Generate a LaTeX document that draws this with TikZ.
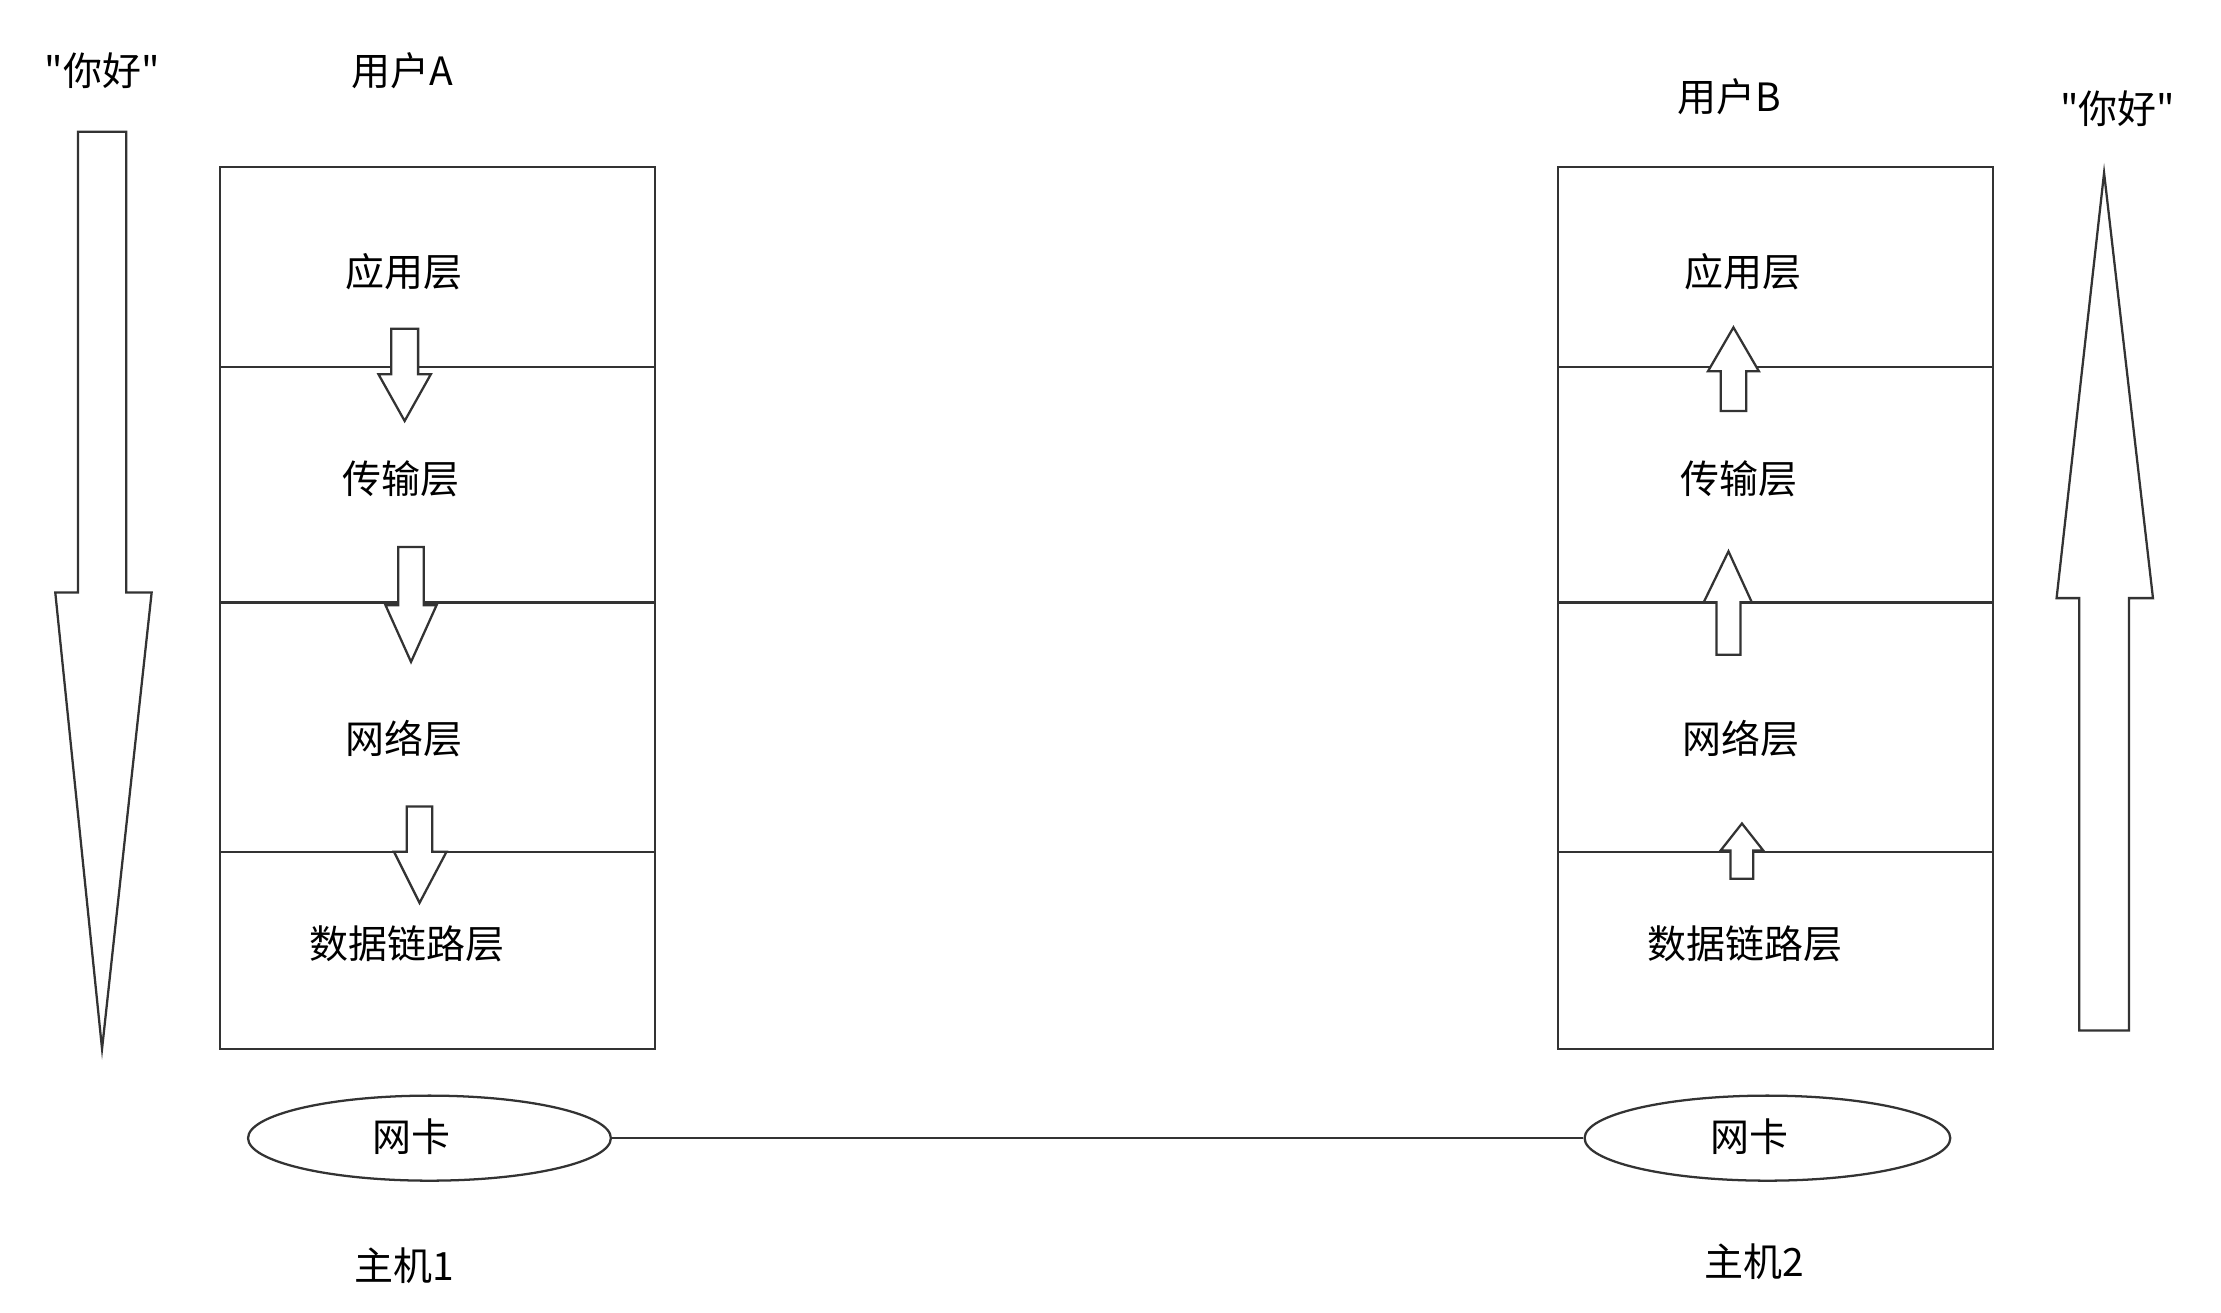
\documentclass[tikz,border=0pt]{standalone}
\usepackage{fontspec}
\usetikzlibrary{shapes.geometric}
\newfontfamily\cjk{Noto Sans CJK SC}
\newcommand\myarrow[7]{%
 \draw[ar] (#1,#3) -- (#1,#4) -- (#5,#4) -- ({(#1+#2)/2},#7) -- (#6,#4) -- (#2,#4) -- (#2,#3) -- cycle;}
\begin{document}
\begin{tikzpicture}[x=1pt,y=-1pt,
 ln/.style={line width=1.6pt,draw=black!80},
 ar/.style={line width=1.6pt,draw=black!80,fill=white},
 lbl/.style={font=\cjk\fontsize{27.5}{30}\selectfont,inner sep=0pt}]
\useasboundingbox (0,0) rectangle (1567,926);
\draw[ln] (155,118) rectangle (462,740);
\foreach \y in {259,425,601} \draw[ln] (155,\y) -- (462,\y);
\draw[ln] (1099,118) rectangle (1406,740);
\foreach \y in {259,425,601} \draw[ln] (1099,\y) -- (1406,\y);
\node[lbl] (a1) at (285,192) {应用层};
\node[lbl] (a2) at (283,338) {传输层};
\node[lbl] (a3) at (285,521) {网络层};
\node[lbl] (a4) at (287,666) {数据链路层};
\node[lbl] (b1) at (1230,192) {应用层};
\node[lbl] (b2) at (1227,338) {传输层};
\node[lbl] (b3) at (1228,521) {网络层};
\node[lbl] (b4) at (1231,666) {数据链路层};
\node[lbl] (ua) at (284,50) {用户A};
\node[lbl] (ub) at (1220,68) {用户B};
\node[lbl] (ha) at (72,50) {"你好"};
\node[lbl] (hb) at (1494,77) {"你好"};
\myarrow{55}{89}{93}{418}{39}{107}{740}
\myarrow{1467}{1502}{727}{422}{1451}{1519}{122}
\myarrow{276}{295}{232}{264}{267}{304}{297}
\myarrow{281}{299}{386}{427}{272}{308}{467}
\myarrow{287}{305}{569}{601}{278}{315}{637}
\myarrow{1214}{1232}{290}{262}{1205}{1241}{231}
\myarrow{1211}{1228}{462}{425}{1202}{1236}{389}
\myarrow{1221}{1237}{620}{600}{1214}{1244}{581}
\node[ln,draw,ellipse,inner sep=0pt,minimum width=256pt,minimum height=60pt] (n1) at (303,803) {};
\node[ln,draw,ellipse,inner sep=0pt,minimum width=258pt,minimum height=60pt] (n2) at (1247,803) {};
\node[lbl] (t1) at (290,802) {网卡};
\node[lbl] (t2) at (1234,802) {网卡};
\draw[ln] (n1.east) -- (n2.west);
\node[lbl] (m1) at (285,893) {主机1};
\node[lbl] (m2) at (1238,890) {主机2};
\end{tikzpicture}
\end{document}
